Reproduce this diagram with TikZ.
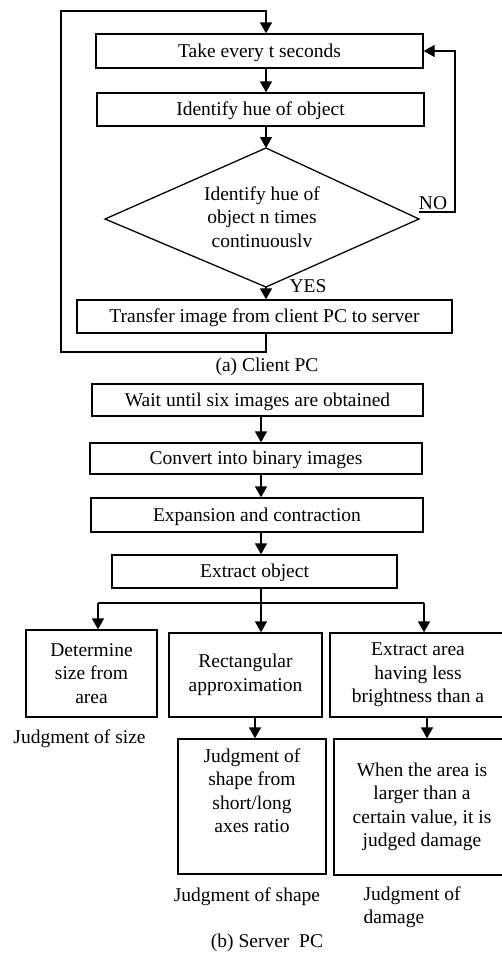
\documentclass[tikz,border=0pt]{standalone}
\usepackage{fontspec}
\setmainfont{Liberation Serif}
\usetikzlibrary{arrows.meta}
\begin{document}
\begin{tikzpicture}[x=1pt,y=-1pt,
  font=\fontsize{19.5}{23.5}\selectfont,
  line width=1.3pt,
  box/.style={draw, rectangle, inner sep=0pt, align=center},
  onebox/.style={box, text height=13pt, text depth=1pt},
  arr/.style={-{Triangle[width=12pt,length=11pt]}},
  lbl/.style={inner sep=0pt, align=center}]
\useasboundingbox (0,0) rectangle (501,956);

% ---------- client side ----------
\coordinate (sp) at (266,0);
\node[onebox, minimum width=327pt, minimum height=34pt] (t1) at (259.5,51) {Take every t seconds};
\node[onebox, minimum width=327pt, minimum height=33pt] (t2) at (260.5,109.5) {Identify hue of object};

% decision diamond drawn from its four corners
\coordinate (dT) at (266,148);
\coordinate (dL) at (105,219);
\coordinate (dR) at (419,219);
\coordinate (dB) at (266,287);
\draw (dT) -- (dR) -- (dB) -- (dL) -- cycle;
\node[lbl] (d) at (262,217) {Identify hue of\\object n times\\continuouslv};

\node[onebox, minimum width=375pt, minimum height=33pt] (t3) at (264.5,316.5) {Transfer image from client PC to server};

\draw[arr] (t1.south -| sp) -- (t2.north -| sp);
\draw[arr] (t2.south -| sp) -- (dT);
\draw[arr] (dB) -- (t3.north -| sp);
\coordinate (noR) at (455,212);
\draw[arr] (dR |- noR) -- (noR) |- (t1.east);
\node[lbl, anchor=south] (no) at (433,210) {NO};
\node[lbl] (yes) at (308,286) {YES};

% outer repeat loop
\coordinate (lpB) at (61,352);
\coordinate (lpT) at (61,11);
\draw[arr] (t3.south -| sp) |- (lpB) -- (lpT) -| (t1.north -| sp);

\node[lbl] (capA) at (267,367) {(a) Client PC};

% ---------- server side ----------
\coordinate (sv) at (261,0);
\node[onebox, minimum width=331pt, minimum height=32pt] (s1) at (257.5,400) {Wait until six images are obtained};
\node[onebox, minimum width=332pt, minimum height=31pt] (s2) at (256,458.5) {Convert into binary images};
\node[onebox, minimum width=332pt, minimum height=34pt] (s3) at (257,515) {Expansion and contraction};
\node[onebox, minimum width=285pt, minimum height=33pt] (s4) at (254.5,571.5) {Extract object};

\draw[arr] (s1.south -| sv) -- (s2.north -| sv);
\draw[arr] (s2.south -| sv) -- (s3.north -| sv);
\draw[arr] (s3.south -| sv) -- (s4.north -| sv);

\node[box, minimum width=131pt, minimum height=87pt] (b1) at (91.5,673.5) {Determine\\size from\\area};
\node[box, minimum width=153pt, minimum height=84pt] (b2) at (245.5,675) {Rectangular\\approximation};
\node[box, minimum width=176pt, minimum height=84pt] (b3) at (418,675) {Extract area\\having less\\brightness than a};

% three-way branch
\coordinate (brC) at (261,603);
\coordinate (brL) at (98,603);
\coordinate (brR) at (424,603);
\draw (s4.south -| sv) -- (brC);
\draw (brL) -- (brR);
\draw[arr] (brL) -- (b1.north -| brL);
\draw[arr] (brC) -- (b2.north -| brC);
\draw[arr] (brR) -- (b3.north -| brR);

\node[box, minimum width=148pt, minimum height=135pt] (c2) at (252,806.5) {Judgment of\\shape from\\short/long\\axes ratio\\[8pt]};
\node[box, minimum width=176pt, minimum height=136pt] (c3) at (422,807) {When the area is\\larger than a\\certain value, it is\\judged damage};

\coordinate (x2) at (255,0);
\coordinate (x3) at (427,0);
\draw[arr] (b2.south -| x2) -- (c2.north -| x2);
\draw[arr] (b3.south -| x3) -- (c3.north -| x3);

\node[lbl] (j1) at (79.5,739) {Judgment of size};
\node[lbl] (j2) at (247,897) {Judgment of shape};
\node[lbl, align=left, anchor=west] (j3) at (363,907) {Judgment of\\damage};
\node[lbl] (capB) at (267,943) {(b) Server~~PC};
\end{tikzpicture}
\end{document}
